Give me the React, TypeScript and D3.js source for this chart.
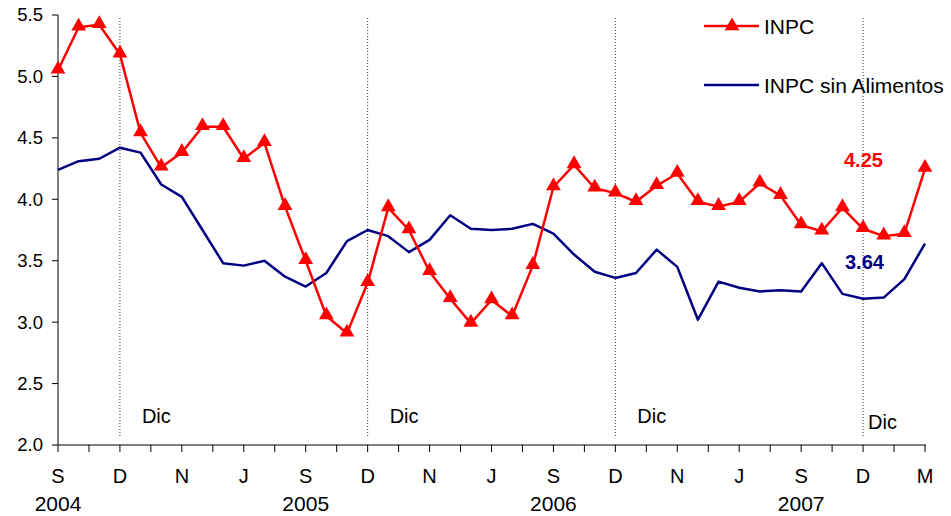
import React from 'react';
import * as d3 from 'd3';

// monthly points, Sep 2004 .. Mar 2008
const inpc = [
  5.05, 5.40, 5.42, 5.18, 4.54, 4.26, 4.38, 4.59, 4.59, 4.33, 4.46, 3.94, 3.50, 3.05, 2.91,
  3.32, 3.93, 3.75, 3.41, 3.19, 2.99, 3.18, 3.05, 3.46, 4.10, 4.28, 4.09, 4.05, 3.98, 4.11,
  4.21, 3.98, 3.94, 3.98, 4.13, 4.03, 3.79, 3.74, 3.93, 3.76, 3.70, 3.72, 4.25,
];
const sinAlimentos = [
  4.24, 4.31, 4.33, 4.42, 4.38, 4.12, 4.02, 3.75, 3.48, 3.46, 3.50, 3.37, 3.29, 3.40, 3.66,
  3.75, 3.70, 3.57, 3.67, 3.87, 3.76, 3.75, 3.76, 3.80, 3.72, 3.55, 3.41, 3.36, 3.40, 3.59,
  3.45, 3.02, 3.33, 3.28, 3.25, 3.26, 3.25, 3.48, 3.23, 3.19, 3.20, 3.35, 3.64,
];
const monthLabels = ['S', 'D', 'N', 'J', 'S', 'D', 'N', 'J', 'S', 'D', 'N', 'J', 'S', 'D', 'M'];
const yearLabels = ['2004', '2005', '2006', '2007'];
const yearAt = [0, 12, 24, 36];
const dicAt = [3, 15, 27, 39];
const yTicks = [2.0, 2.5, 3.0, 3.5, 4.0, 4.5, 5.0, 5.5];

const W = 951;
const H = 516;
const font = 'Liberation Sans, Arial, sans-serif';

const App: React.FC = () => {
  const x = d3.scaleLinear().domain([0, inpc.length - 1]).range([58, 925]);
  const y = d3.scaleLinear().domain([2, 5.5]).range([445, 15]);

  const line = d3.line<number>()
    .x((_, i) => x(i))
    .y(d => y(d));

  const tri = d3.symbol().type(d3.symbolTriangle).size(95)();
  const minorTicks = d3.range(0, inpc.length - 1 + 0.01, 1.5);
  const last = inpc.length - 1;

  return (
    <svg width={W} height={H} style={{ position: 'absolute', left: 0, top: 0, background: '#fff' }}>
      {/* december guide lines */}
      {dicAt.map((d, i) => (
        <g key={'dic' + i}>
          <line x1={x(d)} x2={x(d)} y1={18} y2={438} stroke="#333" strokeWidth={1} strokeDasharray="1,2" />
          <text x={x(d) + (i === 3 ? 5 : 22)} y={i === 3 ? 429 : 423} fontFamily={font} fontSize={20} fill="#000">Dic</text>
        </g>
      ))}

      {/* y axis */}
      <line x1={58} x2={58} y1={y(5.5)} y2={y(2)} stroke="#000" strokeWidth={1} />
      {yTicks.map(t => (
        <g key={'y' + t}>
          <line x1={52} x2={58} y1={y(t)} y2={y(t)} stroke="#000" />
          <text x={43} y={y(t)} dy="0.35em" textAnchor="end" fontFamily={font} fontSize={18.5}>{t.toFixed(1)}</text>
        </g>
      ))}

      {/* x axis */}
      <line x1={58} x2={926} y1={y(2)} y2={y(2)} stroke="#000" strokeWidth={1} />
      {minorTicks.map(t => (
        <line key={'xt' + t} x1={x(t)} x2={x(t)} y1={y(2)} y2={y(2) + 7} stroke="#000" />
      ))}
      {monthLabels.map((m, i) => (
        <text key={'m' + i} x={x(i * 3)} y={483} textAnchor="middle" fontFamily={font} fontSize={20}>{m}</text>
      ))}
      {yearLabels.map((yr, i) => (
        <text key={'yr' + i} x={x(yearAt[i])} y={511} textAnchor="middle" fontFamily={font} fontSize={21}>{yr}</text>
      ))}

      {/* series */}
      <path d={line(sinAlimentos) || ''} fill="none" stroke="#000080" strokeWidth={2.5} strokeLinejoin="round" />
      <path d={line(inpc) || ''} fill="none" stroke="#ff0000" strokeWidth={2.5} strokeLinejoin="round" />
      {inpc.map((v, i) => (
        <path key={'p' + i} d={tri || ''} transform={`translate(${x(i)},${y(v) - 1})`} fill="#ff0000" />
      ))}

      {/* end labels */}
      <text x={x(last) - 81} y={y(inpc[last]) - 2} fontFamily={font} fontSize={20} fontWeight="bold" fill="#ff0000">
        {inpc[last].toFixed(2)}
      </text>
      <text x={x(last) - 80} y={y(sinAlimentos[last]) + 25} fontFamily={font} fontSize={20} fontWeight="bold" fill="#000080">
        {sinAlimentos[last].toFixed(2)}
      </text>

      {/* legend */}
      <line x1={704} x2={759} y1={26} y2={26} stroke="#ff0000" strokeWidth={2.5} />
      <path d={tri || ''} transform="translate(732,26)" fill="#ff0000" />
      <text x={764} y={27} dy="0.35em" fontFamily={font} fontSize={21}>INPC</text>
      <line x1={704} x2={759} y1={85} y2={85} stroke="#000080" strokeWidth={2.5} />
      <text x={764} y={86} dy="0.35em" fontFamily={font} fontSize={21}>INPC sin Alimentos</text>
    </svg>
  );
};

export default App;
